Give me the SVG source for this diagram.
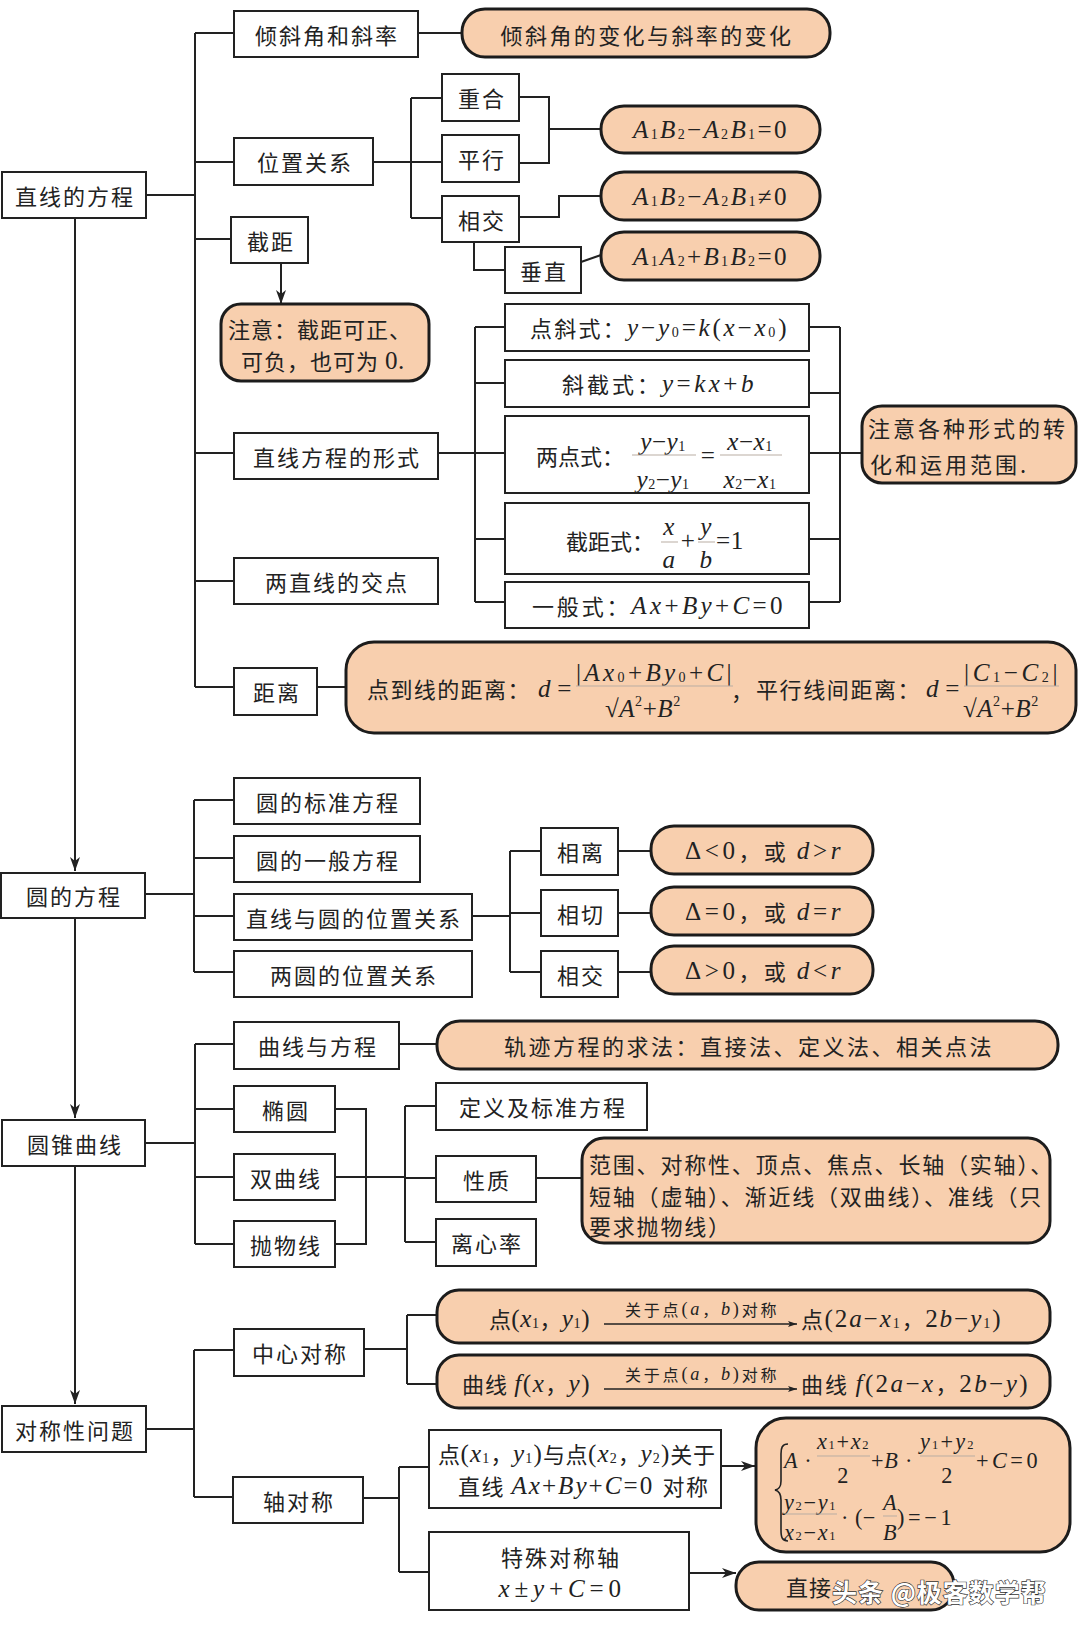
<svg xmlns="http://www.w3.org/2000/svg" width="1080" height="1630" viewBox="0 0 1080 1630">
<defs>
<style>
.bx{fill:#fff;stroke:#222;stroke-width:2}
.pl{fill:#F8CFAE;stroke:#1c1c1c;stroke-width:3}
.ln{fill:none;stroke:#222;stroke-width:2}
.fb{fill:none;stroke:#b9ada3;stroke-width:1}
text{fill:#222;dominant-baseline:central}
.c{font-family:"Noto Sans CJK SC","Noto Sans",sans-serif;font-size:22px;letter-spacing:2px}
.mid{text-anchor:middle}
.m{font-family:"Liberation Serif","Times New Roman",serif;font-size:1.14em;letter-spacing:0.5px}
.i{font-style:italic}
.s{font-size:0.64em}
.sm{font-size:19.5px;letter-spacing:0}
.lb{font-size:16px;letter-spacing:0.5px}
</style>
<marker id="arr" viewBox="0 0 14 10" refX="14" refY="5" markerWidth="14" markerHeight="10" markerUnits="userSpaceOnUse" orient="auto"><path d="M0,0 L14,5 L0,10 L4,5 Z" fill="#222"/></marker>
<marker id="arrs" viewBox="0 0 9 6" refX="9" refY="3" markerWidth="9" markerHeight="6" markerUnits="userSpaceOnUse" orient="auto"><path d="M0,0 L9,3 L0,6 L2,3 Z" fill="#222"/></marker>
</defs>
<rect x="0" y="0" width="1080" height="1630" fill="#fff"/>

<g id="connectors" class="ln">
<path d="M75,218 V871" marker-end="url(#arr)"/>
<path d="M75,918 V1118" marker-end="url(#arr)"/>
<path d="M75,1166 V1404" marker-end="url(#arr)"/>
<path d="M146,195 H195 M195,33 V687 M195,33 H234 M195,162 H234 M195,239 H231 M195,453 H234 M195,581 H234 M195,687 H234"/>
<path d="M418,33 H462"/>
<path d="M373,162 H411 M411,98 V218 M411,98 H442 M411,162 H442 M411,218 H442"/>
<path d="M519,97 H549 V163 H519 M549,129 H601"/>
<path d="M519,217 H559 V196 H601"/>
<path d="M474,242 V270 H505"/>
<path d="M581,262 L601,255"/>
<path d="M281,263 V304" marker-end="url(#arr)"/>
<path d="M438,453 H475 M475,327 V602 M475,327 H505 M475,383 H505 M475,453 H505 M475,539 H505 M475,602 H505"/>
<path d="M809,327 H840 M809,393 H840 M809,453 H862 M809,539 H840 M809,602 H840 M840,327 V602"/>
<path d="M317,687 H346"/>
<path d="M145,894 H194 M194,800 V972 M194,800 H234 M194,858 H234 M194,916 H234 M194,972 H234"/>
<path d="M472,916 H510 M510,851 V972 M510,851 H541 M510,913 H541 M510,972 H541"/>
<path d="M618,851 H651 M618,913 H651 M618,972 H651"/>
<path d="M145,1143 H195 M195,1044 V1244 M195,1044 H234 M195,1109 H234 M195,1177 H234 M195,1244 H234"/>
<path d="M399,1044 H437"/>
<path d="M335,1109 H366 V1244 H335 M335,1177 H405 M405,1106 V1242 M405,1106 H436 M405,1178 H436 M405,1242 H436"/>
<path d="M536,1178 H582"/>
<path d="M146,1429 H194 M194,1350 V1497 M194,1350 H234 M194,1497 H233"/>
<path d="M364,1349 H407 M407,1315 V1384 M407,1315 H437 M407,1384 H437"/>
<path d="M363,1498 H399 M399,1467 V1572 M399,1467 H429 M399,1572 H429"/>
<path d="M721,1466 H755" marker-end="url(#arr)"/>
<path d="M689,1573 H736" marker-end="url(#arr)"/>
</g>

<!-- Section 1 -->
<g id="n-line-eq"><rect class="bx" x="2" y="172" width="144" height="46"/><text class="c mid" x="75" y="195">直线的方程</text></g>
<g id="n-incl"><rect class="bx" x="234" y="11" width="184" height="46"/><text class="c mid" x="327" y="34">倾斜角和斜率</text></g>
<g id="n-incl-note"><rect class="pl" x="462" y="9" width="368" height="48" rx="23"/><text class="c mid" x="647" y="34" style="letter-spacing:2.4px">倾斜角的变化与斜率的变化</text></g>
<g id="n-pos"><rect class="bx" x="234" y="138" width="139" height="47"/><text class="c mid" x="305" y="161">位置关系</text></g>
<g id="n-coin"><rect class="bx" x="442" y="74" width="77" height="47"/><text class="c mid" x="482" y="97">重合</text></g>
<g id="n-para"><rect class="bx" x="442" y="135" width="77" height="47"/><text class="c mid" x="482" y="158">平行</text></g>
<g id="n-inter"><rect class="bx" x="442" y="196" width="77" height="46"/><text class="c mid" x="482" y="219">相交</text></g>
<g id="n-perp"><rect class="bx" x="505" y="247" width="76" height="46"/><text class="c mid" x="544" y="270">垂直</text></g>
<g id="n-c1"><rect class="pl" x="601" y="106" width="219" height="47" rx="23"/>
<text class="c mid" x="710" y="129" textLength="154"><tspan class="m i">A</tspan><tspan class="m s" dy="5">1</tspan><tspan class="m i" dy="-5">B</tspan><tspan class="m s" dy="5">2</tspan><tspan class="m" dy="-5">−</tspan><tspan class="m i">A</tspan><tspan class="m s" dy="5">2</tspan><tspan class="m i" dy="-5">B</tspan><tspan class="m s" dy="5">1</tspan><tspan class="m" dy="-5">=0</tspan></text></g>
<g id="n-c2"><rect class="pl" x="601" y="172" width="219" height="48" rx="23"/>
<text class="c mid" x="710" y="196" textLength="154"><tspan class="m i">A</tspan><tspan class="m s" dy="5">1</tspan><tspan class="m i" dy="-5">B</tspan><tspan class="m s" dy="5">2</tspan><tspan class="m" dy="-5">−</tspan><tspan class="m i">A</tspan><tspan class="m s" dy="5">2</tspan><tspan class="m i" dy="-5">B</tspan><tspan class="m s" dy="5">1</tspan><tspan class="m" dy="-5">≠0</tspan></text></g>
<g id="n-c3"><rect class="pl" x="601" y="232" width="219" height="48" rx="23"/>
<text class="c mid" x="710" y="256" textLength="154"><tspan class="m i">A</tspan><tspan class="m s" dy="5">1</tspan><tspan class="m i" dy="-5">A</tspan><tspan class="m s" dy="5">2</tspan><tspan class="m" dy="-5">+</tspan><tspan class="m i">B</tspan><tspan class="m s" dy="5">1</tspan><tspan class="m i" dy="-5">B</tspan><tspan class="m s" dy="5">2</tspan><tspan class="m" dy="-5">=0</tspan></text></g>
<g id="n-intercept"><rect class="bx" x="231" y="217" width="77" height="46"/><text class="c mid" x="271" y="240">截距</text></g>
<g id="n-intercept-note"><rect class="pl" x="221" y="304" width="208" height="77" rx="20"/>
<text class="c" x="228" y="328" style="letter-spacing:1px">注意：截距可正、</text>
<text class="c" x="241" y="360" style="letter-spacing:1px">可负，也可为 <tspan class="m">0.</tspan></text></g>
<g id="n-forms"><rect class="bx" x="234" y="433" width="204" height="46"/><text class="c mid" x="337" y="456">直线方程的形式</text></g>
<g id="n-f1"><rect class="bx" x="505" y="304" width="304" height="47"/>
<text class="c" x="530" y="327" textLength="257" style="letter-spacing:0">点斜式：<tspan class="m i">y</tspan><tspan class="m">−</tspan><tspan class="m i">y</tspan><tspan class="m s" dy="5">0</tspan><tspan class="m" dy="-5">=</tspan><tspan class="m i">k</tspan><tspan class="m">(</tspan><tspan class="m i">x</tspan><tspan class="m">−</tspan><tspan class="m i">x</tspan><tspan class="m s" dy="5">0</tspan><tspan class="m" dy="-5">)</tspan></text></g>
<g id="n-f2"><rect class="bx" x="505" y="360" width="304" height="47"/>
<text class="c" x="562" y="383" textLength="192" style="letter-spacing:0">斜截式：<tspan class="m i">y</tspan><tspan class="m">=</tspan><tspan class="m i">kx</tspan><tspan class="m">+</tspan><tspan class="m i">b</tspan></text></g>
<g id="n-f3"><rect class="bx" x="505" y="416" width="304" height="77"/>
<text class="c" x="536" y="455" style="letter-spacing:0">两点式：</text>
<text class="c mid" x="663" y="441"><tspan class="m i">y</tspan><tspan class="m">−</tspan><tspan class="m i">y</tspan><tspan class="m s" dy="5">1</tspan></text>
<path class="fb" d="M632,455 H696"/>
<text class="c mid" x="663" y="479"><tspan class="m i">y</tspan><tspan class="m s" dy="5">2</tspan><tspan class="m" dy="-5">−</tspan><tspan class="m i">y</tspan><tspan class="m s" dy="5">1</tspan></text>
<text class="c mid" x="708" y="455"><tspan class="m">=</tspan></text>
<text class="c mid" x="750" y="441"><tspan class="m i">x</tspan><tspan class="m">−</tspan><tspan class="m i">x</tspan><tspan class="m s" dy="5">1</tspan></text>
<path class="fb" d="M720,455 H782"/>
<text class="c mid" x="750" y="479"><tspan class="m i">x</tspan><tspan class="m s" dy="5">2</tspan><tspan class="m" dy="-5">−</tspan><tspan class="m i">x</tspan><tspan class="m s" dy="5">1</tspan></text></g>
<g id="n-f4"><rect class="bx" x="505" y="503" width="304" height="71"/>
<text class="c" x="566" y="540" style="letter-spacing:0">截距式：</text>
<text class="c mid" x="669" y="526"><tspan class="m i">x</tspan></text>
<text class="c mid" x="669" y="559"><tspan class="m i">a</tspan></text>
<path class="fb" d="M661,542 H678"/>
<text class="c mid" x="688" y="540"><tspan class="m">+</tspan></text>
<text class="c mid" x="706" y="526"><tspan class="m i">y</tspan></text>
<text class="c mid" x="706" y="559"><tspan class="m i">b</tspan></text>
<path class="fb" d="M698,542 H715"/>
<text class="c" x="716" y="540"><tspan class="m">=1</tspan></text></g>
<g id="n-f5"><rect class="bx" x="505" y="582" width="304" height="46"/>
<text class="c" x="532" y="605" textLength="251" style="letter-spacing:0">一般式：<tspan class="m i">Ax</tspan><tspan class="m">+</tspan><tspan class="m i">By</tspan><tspan class="m">+</tspan><tspan class="m i">C</tspan><tspan class="m">=0</tspan></text></g>
<g id="n-forms-note"><rect class="pl" x="862" y="406" width="214" height="77" rx="20"/>
<text class="c" x="868" y="427" style="letter-spacing:3px">注意各种形式的转</text>
<text class="c" x="870" y="463" style="letter-spacing:3px">化和运用范围.</text></g>
<g id="n-cross"><rect class="bx" x="234" y="558" width="204" height="46"/><text class="c mid" x="337" y="581">两直线的交点</text></g>
<g id="n-dist"><rect class="bx" x="234" y="668" width="83" height="47"/><text class="c mid" x="277" y="691">距离</text></g>
<g id="n-dist-note"><rect class="pl" x="346" y="642" width="730" height="91" rx="28"/>
<text class="c" x="367" y="688" style="letter-spacing:1.4px">点到线的距离：</text>
<text class="c" x="538" y="688" textLength="34"><tspan class="m i">d</tspan><tspan class="m">=</tspan></text>
<text class="c mid" x="654" y="672" textLength="156"><tspan class="m">|</tspan><tspan class="m i">Ax</tspan><tspan class="m s" dy="5">0</tspan><tspan class="m" dy="-5">+</tspan><tspan class="m i">By</tspan><tspan class="m s" dy="5">0</tspan><tspan class="m" dy="-5">+</tspan><tspan class="m i">C</tspan><tspan class="m">|</tspan></text>
<path class="fb" d="M576,686 H733"/>
<text class="c" x="605" y="708"><tspan class="m">√</tspan><tspan class="m i">A</tspan><tspan class="m s" dy="-7">2</tspan><tspan class="m" dy="7">+</tspan><tspan class="m i">B</tspan><tspan class="m s" dy="-7">2</tspan></text>
<text class="c" x="731" y="690">，</text>
<text class="c" x="756" y="688" style="letter-spacing:1.6px">平行线间距离：</text>
<text class="c" x="926" y="688" textLength="34"><tspan class="m i">d</tspan><tspan class="m">=</tspan></text>
<text class="c mid" x="1011" y="672" textLength="94"><tspan class="m">|</tspan><tspan class="m i">C</tspan><tspan class="m s" dy="5">1</tspan><tspan class="m" dy="-5">−</tspan><tspan class="m i">C</tspan><tspan class="m s" dy="5">2</tspan><tspan class="m" dy="-5">|</tspan></text>
<path class="fb" d="M964,686 H1059"/>
<text class="c" x="963" y="708"><tspan class="m">√</tspan><tspan class="m i">A</tspan><tspan class="m s" dy="-7">2</tspan><tspan class="m" dy="7">+</tspan><tspan class="m i">B</tspan><tspan class="m s" dy="-7">2</tspan></text></g>

<!-- Section 2 -->
<g id="n-circle"><rect class="bx" x="1" y="873" width="144" height="45"/><text class="c mid" x="74" y="895">圆的方程</text></g>
<g id="n-c-std"><rect class="bx" x="234" y="778" width="186" height="46"/><text class="c mid" x="328" y="801">圆的标准方程</text></g>
<g id="n-c-gen"><rect class="bx" x="234" y="836" width="186" height="46"/><text class="c mid" x="328" y="859">圆的一般方程</text></g>
<g id="n-c-line"><rect class="bx" x="234" y="894" width="238" height="46"/><text class="c mid" x="354" y="917">直线与圆的位置关系</text></g>
<g id="n-c-two"><rect class="bx" x="234" y="951" width="238" height="46"/><text class="c mid" x="354" y="974">两圆的位置关系</text></g>
<g id="n-sep"><rect class="bx" x="541" y="828" width="77" height="47"/><text class="c mid" x="581" y="851">相离</text></g>
<g id="n-tan"><rect class="bx" x="541" y="890" width="77" height="46"/><text class="c mid" x="581" y="913">相切</text></g>
<g id="n-int2"><rect class="bx" x="541" y="951" width="77" height="46"/><text class="c mid" x="581" y="974">相交</text></g>
<g id="n-sep-note"><rect class="pl" x="651" y="826" width="222" height="48" rx="23"/>
<text class="c mid" x="763" y="850" textLength="156" style="letter-spacing:0"><tspan class="m">Δ&lt;0</tspan>，或 <tspan class="m i">d</tspan><tspan class="m">&gt;</tspan><tspan class="m i">r</tspan></text></g>
<g id="n-tan-note"><rect class="pl" x="651" y="887" width="222" height="48" rx="23"/>
<text class="c mid" x="763" y="911" textLength="156" style="letter-spacing:0"><tspan class="m">Δ=0</tspan>，或 <tspan class="m i">d</tspan><tspan class="m">=</tspan><tspan class="m i">r</tspan></text></g>
<g id="n-int-note"><rect class="pl" x="651" y="946" width="222" height="48" rx="23"/>
<text class="c mid" x="763" y="970" textLength="156" style="letter-spacing:0"><tspan class="m">Δ&gt;0</tspan>，或 <tspan class="m i">d</tspan><tspan class="m">&lt;</tspan><tspan class="m i">r</tspan></text></g>

<!-- Section 3 -->
<g id="n-conic"><rect class="bx" x="2" y="1120" width="143" height="46"/><text class="c mid" x="75" y="1143">圆锥曲线</text></g>
<g id="n-curve"><rect class="bx" x="234" y="1022" width="165" height="47"/><text class="c mid" x="318" y="1045">曲线与方程</text></g>
<g id="n-curve-note"><rect class="pl" x="437" y="1021" width="621" height="48" rx="23"/><text class="c mid" x="749" y="1045" style="letter-spacing:2.5px">轨迹方程的求法：直接法、定义法、相关点法</text></g>
<g id="n-ellipse"><rect class="bx" x="234" y="1086" width="101" height="46"/><text class="c mid" x="286" y="1109">椭圆</text></g>
<g id="n-hyper"><rect class="bx" x="234" y="1154" width="101" height="46"/><text class="c mid" x="286" y="1177">双曲线</text></g>
<g id="n-parab"><rect class="bx" x="234" y="1221" width="101" height="46"/><text class="c mid" x="286" y="1244">抛物线</text></g>
<g id="n-def"><rect class="bx" x="436" y="1083" width="211" height="47"/><text class="c mid" x="543" y="1106">定义及标准方程</text></g>
<g id="n-prop"><rect class="bx" x="436" y="1156" width="100" height="46"/><text class="c mid" x="487" y="1179">性质</text></g>
<g id="n-ecc"><rect class="bx" x="436" y="1219" width="100" height="47"/><text class="c mid" x="487" y="1242">离心率</text></g>
<g id="n-prop-note"><rect class="pl" x="582" y="1138" width="468" height="105" rx="22"/>
<text class="c" x="589" y="1163" style="letter-spacing:1.8px">范围、对称性、顶点、焦点、长轴（实轴）、</text>
<text class="c" x="589" y="1195" style="letter-spacing:1.8px">短轴（虚轴）、渐近线（双曲线）、准线（只</text>
<text class="c" x="589" y="1225" style="letter-spacing:1.8px">要求抛物线）</text></g>

<!-- Section 4 -->
<g id="n-sym"><rect class="bx" x="2" y="1406" width="144" height="46"/><text class="c mid" x="75" y="1429">对称性问题</text></g>
<g id="n-central"><rect class="bx" x="234" y="1329" width="130" height="47"/><text class="c mid" x="300" y="1352">中心对称</text></g>
<g id="n-central-p"><rect class="pl" x="437" y="1290" width="613" height="53" rx="22"/>
<text class="c" x="489" y="1318" textLength="101" style="letter-spacing:0">点<tspan class="m">(</tspan><tspan class="m i">x</tspan><tspan class="m s" dy="5">1</tspan><tspan dy="-5">，</tspan><tspan class="m i">y</tspan><tspan class="m s" dy="5">1</tspan><tspan class="m" dy="-5">)</tspan></text>
<path class="ln" d="M604,1324 H797" style="stroke-width:1.5" marker-end="url(#arrs)"/>
<text class="c lb" x="625" y="1309" textLength="152">关于点<tspan class="m">(</tspan><tspan class="m i">a</tspan>，<tspan class="m i">b</tspan><tspan class="m">)</tspan>对称</text>
<text class="c" x="801" y="1318" textLength="200" style="letter-spacing:0">点<tspan class="m">(2</tspan><tspan class="m i">a</tspan><tspan class="m">−</tspan><tspan class="m i">x</tspan><tspan class="m s" dy="5">1</tspan><tspan dy="-5">，</tspan><tspan class="m">2</tspan><tspan class="m i">b</tspan><tspan class="m">−</tspan><tspan class="m i">y</tspan><tspan class="m s" dy="5">1</tspan><tspan class="m" dy="-5">)</tspan></text></g>
<g id="n-central-c"><rect class="pl" x="437" y="1355" width="613" height="53" rx="22"/>
<text class="c" x="462" y="1383" textLength="128" style="letter-spacing:0">曲线 <tspan class="m i">f</tspan><tspan class="m">(</tspan><tspan class="m i">x</tspan>，<tspan class="m i">y</tspan><tspan class="m">)</tspan></text>
<path class="ln" d="M604,1389 H797" style="stroke-width:1.5" marker-end="url(#arrs)"/>
<text class="c lb" x="625" y="1374" textLength="152">关于点<tspan class="m">(</tspan><tspan class="m i">a</tspan>，<tspan class="m i">b</tspan><tspan class="m">)</tspan>对称</text>
<text class="c" x="801" y="1383" textLength="227" style="letter-spacing:0">曲线 <tspan class="m i">f</tspan><tspan class="m">(2</tspan><tspan class="m i">a</tspan><tspan class="m">−</tspan><tspan class="m i">x</tspan>，<tspan class="m">2</tspan><tspan class="m i">b</tspan><tspan class="m">−</tspan><tspan class="m i">y</tspan><tspan class="m">)</tspan></text></g>
<g id="n-axial"><rect class="bx" x="233" y="1477" width="130" height="46"/><text class="c mid" x="299" y="1500">轴对称</text></g>
<g id="n-axial-pt"><rect class="bx" x="429" y="1430" width="292" height="78"/>
<text class="c" x="438" y="1453" textLength="277" style="letter-spacing:0">点<tspan class="m">(</tspan><tspan class="m i">x</tspan><tspan class="m s" dy="5">1</tspan><tspan dy="-5">，</tspan><tspan class="m i">y</tspan><tspan class="m s" dy="5">1</tspan><tspan class="m" dy="-5">)</tspan>与点<tspan class="m">(</tspan><tspan class="m i">x</tspan><tspan class="m s" dy="5">2</tspan><tspan dy="-5">，</tspan><tspan class="m i">y</tspan><tspan class="m s" dy="5">2</tspan><tspan class="m" dy="-5">)</tspan>关于</text>
<text class="c" x="458" y="1485" textLength="250" style="letter-spacing:0">直线 <tspan class="m i">Ax</tspan><tspan class="m">+</tspan><tspan class="m i">By</tspan><tspan class="m">+</tspan><tspan class="m i">C</tspan><tspan class="m">=0 </tspan>对称</text></g>
<g id="n-system"><rect class="pl" x="756" y="1418" width="314" height="134" rx="30"/>
<path d="M788,1444 C782,1444 781,1448 781,1454 L781,1481 C781,1487 779,1489 775,1490 C779,1491 781,1494 781,1500 L781,1530 C781,1537 782,1541 788,1541" fill="none" stroke="#222" stroke-width="1.6"/>
<text class="c sm" x="784" y="1460"><tspan class="m i">A</tspan><tspan class="m"> ·</tspan></text>
<text class="c sm mid" x="843" y="1441" textLength="52"><tspan class="m i">x</tspan><tspan class="m s" dy="4">1</tspan><tspan class="m" dy="-4">+</tspan><tspan class="m i">x</tspan><tspan class="m s" dy="4">2</tspan></text>
<path class="fb" d="M817,1456 H870"/>
<text class="c sm mid" x="843" y="1475"><tspan class="m">2</tspan></text>
<text class="c sm" x="871" y="1460" textLength="42"><tspan class="m">+</tspan><tspan class="m i">B</tspan><tspan class="m"> ·</tspan></text>
<text class="c sm mid" x="947" y="1441" textLength="54"><tspan class="m i">y</tspan><tspan class="m s" dy="4">1</tspan><tspan class="m" dy="-4">+</tspan><tspan class="m i">y</tspan><tspan class="m s" dy="4">2</tspan></text>
<path class="fb" d="M920,1456 H975"/>
<text class="c sm mid" x="947" y="1475"><tspan class="m">2</tspan></text>
<text class="c sm" x="976" y="1460" textLength="62"><tspan class="m">+</tspan><tspan class="m i">C</tspan><tspan class="m">=0</tspan></text>
<text class="c sm mid" x="810" y="1502" textLength="52"><tspan class="m i">y</tspan><tspan class="m s" dy="4">2</tspan><tspan class="m" dy="-4">−</tspan><tspan class="m i">y</tspan><tspan class="m s" dy="4">1</tspan></text>
<path class="fb" d="M785,1514 H837"/>
<text class="c sm mid" x="810" y="1532" textLength="52"><tspan class="m i">x</tspan><tspan class="m s" dy="4">2</tspan><tspan class="m" dy="-4">−</tspan><tspan class="m i">x</tspan><tspan class="m s" dy="4">1</tspan></text>
<text class="c sm" x="841" y="1517"><tspan class="m">· (−</tspan></text>
<text class="c sm mid" x="890" y="1502"><tspan class="m i">A</tspan></text>
<path class="fb" d="M883,1516 H897"/>
<text class="c sm mid" x="890" y="1532"><tspan class="m i">B</tspan></text>
<text class="c sm" x="897" y="1517" textLength="55"><tspan class="m">)=−1</tspan></text></g>
<g id="n-special"><rect class="bx" x="429" y="1532" width="260" height="78"/>
<text class="c mid" x="561" y="1556">特殊对称轴</text>
<text class="c mid" x="560" y="1588" textLength="123"><tspan class="m i">x</tspan><tspan class="m">±</tspan><tspan class="m i">y</tspan><tspan class="m">+</tspan><tspan class="m i">C</tspan><tspan class="m">=0</tspan></text></g>
<g id="n-direct"><rect class="pl" x="736" y="1562" width="218" height="48" rx="23"/>
<text class="c" x="786" y="1586" style="letter-spacing:1px">直接</text></g>

<g id="watermark"><text x="832" y="1591" style="font-family:'Noto Sans CJK SC',sans-serif;font-size:25px;font-weight:700;fill:#fff;stroke:#333;stroke-width:1.3px;paint-order:stroke;letter-spacing:1px">头条 @极客数学帮</text></g>
</svg>
